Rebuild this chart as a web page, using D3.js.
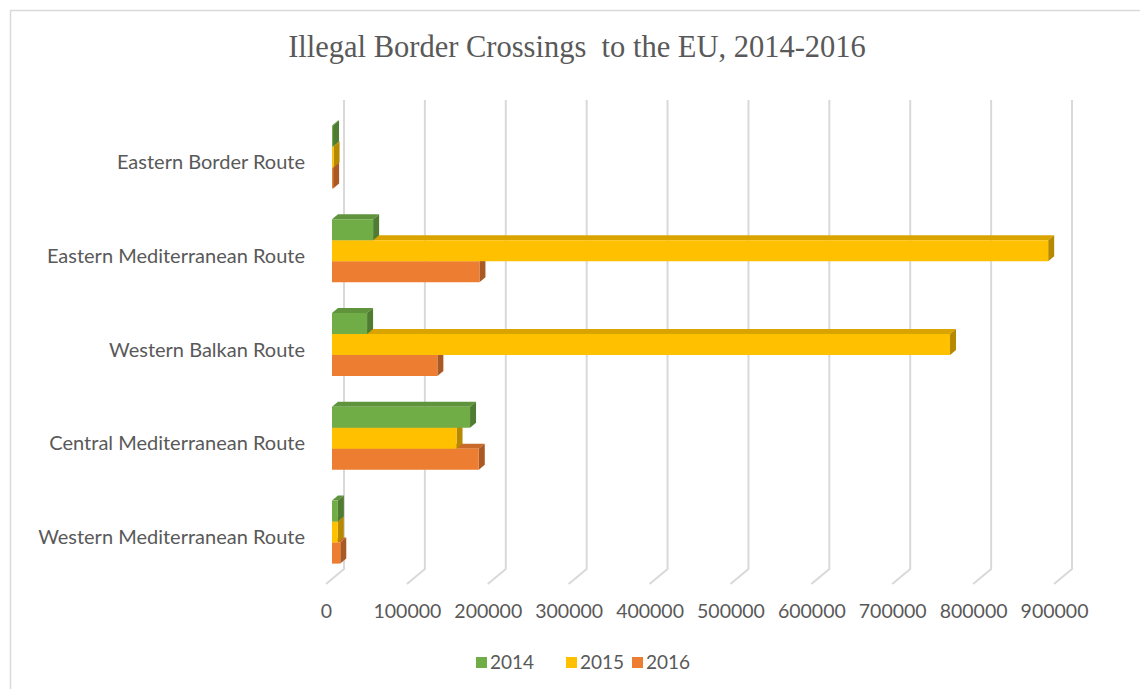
<!DOCTYPE html>
<html>
<head>
<meta charset="utf-8">
<script src="https://cdn.jsdelivr.net/npm/d3@7"></script>
<style>
  html, body { margin: 0; padding: 0; background: #fff; }
  svg { display: block; }
</style>
</head>
<body>
<svg id="chart" width="1140" height="689"></svg>
<script>
// Illegal border crossings to the EU by route (Frontex), 2014-2016
const routes = [
  "Eastern Border Route",
  "Eastern Mediterranean Route",
  "Western Balkan Route",
  "Central Mediterranean Route",
  "Western Mediterranean Route"
];
const years = ["2014", "2015", "2016"];
const crossings2014 = [1275, 50834, 43357, 170664, 7272];
const crossings2015 = [1927, 885386, 764038, 153946, 7164];
const crossings2016 = [1384, 182277, 130261, 181459, 10231];
const tickValues = [0, 100000, 200000, 300000, 400000, 500000, 600000, 700000, 800000, 900000];
const seriesColors = ["#70AD47", "#FFC000", "#ED7D31"];

const series = [crossings2014, crossings2015, crossings2016];

const svg = d3.select("#chart");
const textColor = "#595959";
const gridColor = "#d9d9d9";
const sansFont = "Lato, 'Open Sans', sans-serif";

// Oblique 3-D projection: value axis runs right, categories down,
// depth (z from 0 at the front to 1 at the back wall) shifts up and right.
const DEPTH_DX = 18, DEPTH_DY = -15;
const x = d3.scaleLinear().domain([0, 900000]).range([326, 1054]);
const yBand = d3.scaleBand().domain(routes).range([115, 584])
  .paddingInner(0.328).paddingOuter(0.164);
const barH = yBand.bandwidth() / years.length;
const zFront = 1 / 3, zBack = 2 / 3;

const proj = (v, yy, z) => [x(v) + z * DEPTH_DX, yy + z * DEPTH_DY];
const poly = pts => "M" + pts.map(p => p.join(",")).join("L") + "Z";

// chart frame
svg.append("rect")
  .attr("x", 10.5).attr("y", 10.5)
  .attr("width", 1140).attr("height", 700)
  .attr("fill", "none").attr("stroke", gridColor).attr("stroke-width", 1.5);

// title
svg.append("text")
  .attr("x", 577).attr("y", 47)
  .attr("text-anchor", "middle").attr("dominant-baseline", "central")
  .attr("font-family", "'Liberation Serif', 'Times New Roman', serif")
  .attr("font-size", 30.5).attr("fill", textColor)
  .style("white-space", "pre")
  .text("Illegal Border Crossings  to the EU, 2014-2016");

// gridlines: back wall verticals folding onto the floor
const [yTop, yBottom] = yBand.range();
svg.append("g").selectAll("path")
  .data(tickValues)
  .join("path")
  .attr("d", t => {
    const a = proj(t, yTop, 1), b = proj(t, yBottom, 1), c = proj(t, yBottom, 0);
    return `M${a}L${b}L${c}`;
  })
  .attr("fill", "none").attr("stroke", gridColor).attr("stroke-width", 2);

// value axis labels
const axis = svg.append("g")
  .attr("transform", "translate(0,611)")
  .call(d3.axisBottom(x).tickValues(tickValues).tickFormat(d3.format("d")).tickSize(0).tickPadding(0));
axis.select(".domain").remove();
axis.selectAll("text")
  .attr("y", 0).attr("dy", "0.35em")
  .attr("font-family", sansFont)
  .attr("font-size", 19.5).attr("fill", textColor);

// category labels
svg.append("g").selectAll("text")
  .data(routes)
  .join("text")
  .attr("x", 305)
  .attr("y", r => yBand(r) + yBand.bandwidth() / 2)
  .attr("dy", "0.35em")
  .attr("text-anchor", "end")
  .attr("font-family", sansFont)
  .attr("font-size", 20).attr("fill", textColor)
  .text(r => r);

// 3-D bars: bottom series first so the bar above overlaps its top face
const bars = svg.append("g");
routes.forEach((route, i) => {
  for (let s = series.length - 1; s >= 0; s--) {
    const v = series[s][i];
    const y0 = yBand(route) + s * barH, y1 = y0 + barH;
    const base = d3.color(seriesColors[s]);
    const topC = base.darker(0.45).formatHex();
    const sideC = base.darker(0.95).formatHex();
    const g = bars.append("g");
    g.append("path")
      .attr("d", poly([proj(0, y0, zFront), proj(v, y0, zFront), proj(v, y0, zBack), proj(0, y0, zBack)]))
      .attr("fill", topC);
    g.append("path")
      .attr("d", poly([proj(v, y0, zFront), proj(v, y0, zBack), proj(v, y1, zBack), proj(v, y1, zFront)]))
      .attr("fill", sideC);
    g.append("path")
      .attr("d", poly([proj(0, y0, zFront), proj(v, y0, zFront), proj(v, y1, zFront), proj(0, y1, zFront)]))
      .attr("fill", seriesColors[s]);
  }
});

// legend
const legendItems = [
  { label: years[0], color: seriesColors[0], x: 476 },
  { label: years[1], color: seriesColors[1], x: 566 },
  { label: years[2], color: seriesColors[2], x: 632 }
];
const legend = svg.append("g");
legendItems.forEach(d => {
  legend.append("rect")
    .attr("x", d.x).attr("y", 657).attr("width", 11).attr("height", 11)
    .attr("fill", d.color);
  legend.append("text")
    .attr("x", d.x + 14).attr("y", 662.5).attr("dy", "0.35em")
    .attr("font-family", sansFont)
    .attr("font-size", 19).attr("fill", textColor)
    .text(d.label);
});
</script>
</body>
</html>
